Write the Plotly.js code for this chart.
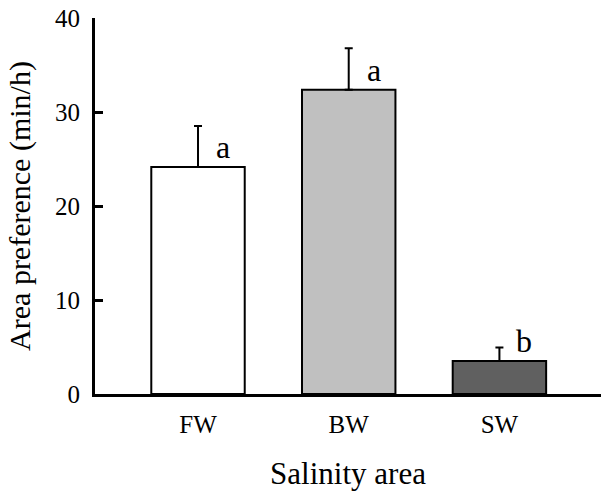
<!DOCTYPE html>
<html>
<head>
<meta charset="utf-8">
<script src="https://cdn.plot.ly/plotly-3.0.1.min.js"></script>
<style>html,body{margin:0;padding:0;background:#fff;}#chart{width:601px;height:493px;}</style>
</head>
<body>
<div id="chart"></div>
<script>
var categories = ["FW", "BW", "SW"];
var values = [24.15, 32.37, 3.5];
var errors = [4.35, 4.4, 1.46];
var letters = ["a", "a", "b"];
var barColors = ["#ffffff", "#c0c0c0", "#606060"];
var yTicks = [0, 10, 20, 30, 40];

var FONT = "Liberation Serif";

var trace = {
  type: "bar",
  x: categories,
  y: values,
  marker: {color: barColors, line: {color: "#000", width: 2}},
  error_y: {
    type: "data", symmetric: false, array: errors,
    arrayminus: errors.map(function(){return 0;}),
    color: "#000", thickness: 2, width: 4, visible: true
  },
  hoverinfo: "none"
};

var annotations = categories.map(function(c, i){
  return {
    x: c, y: values[i], xref: "x", yref: "y",
    text: letters[i], showarrow: false,
    xanchor: "center", yanchor: "bottom",
    xshift: 25, yshift: 0,
    font: {family: FONT, size: 32, color: "#000"}
  };
});

var layout = {
  width: 601, height: 493,
  margin: {l: 95, r: 0, t: 17.5, b: 99, pad: 0},
  paper_bgcolor: "#fff", plot_bgcolor: "#fff",
  showlegend: false,
  bargap: 0.38,
  font: {family: FONT, color: "#000"},
  xaxis: {
    type: "category",
    range: [-0.6835, 2.674],
    showline: true, linecolor: "#000", linewidth: 3,
    ticks: "", showgrid: false, zeroline: false,
    tickfont: {family: FONT, size: 25, color: "#000"},
    ticklabelstandoff: 6,
    title: {text: "Salinity area", font: {family: FONT, size: 31, color: "#000"}, standoff: 26},
    automargin: false, fixedrange: true
  },
  yaxis: {
    range: [0, 40],
    tickvals: yTicks, ticktext: yTicks.map(String),
    showline: true, linecolor: "#000", linewidth: 3,
    ticks: "inside", ticklen: 8, tickwidth: 3, tickcolor: "#000",
    showgrid: false, zeroline: false,
    tickfont: {family: FONT, size: 25, color: "#000"},
    ticklabelstandoff: 7,
    title: {text: "Area preference (min/h)", font: {family: FONT, size: 30, color: "#000"}, standoff: 16},
    automargin: false, fixedrange: true
  },
  annotations: annotations
};

Plotly.newPlot("chart", [trace], layout, {displayModeBar: false, staticPlot: true});
</script>
</body>
</html>
